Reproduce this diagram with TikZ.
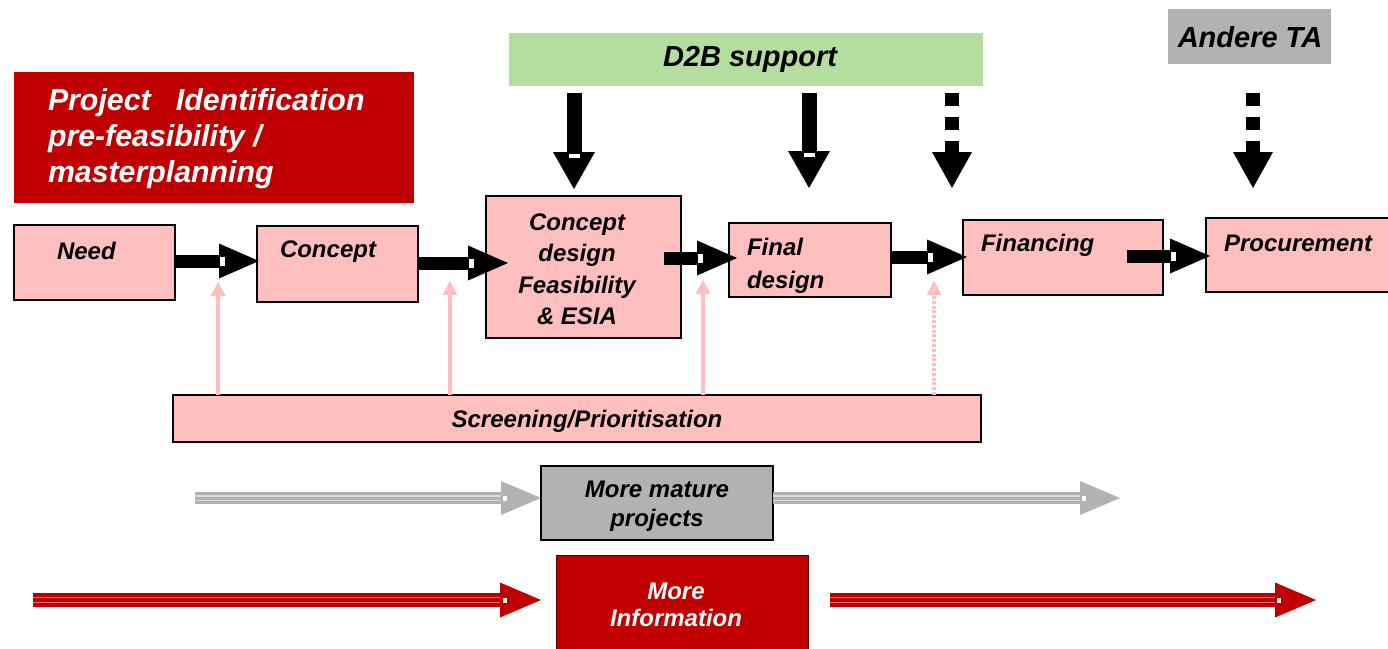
\documentclass[tikz,border=0pt]{standalone}
\usepackage{fontspec}
\setmainfont{Liberation Sans}
\usetikzlibrary{arrows.meta,calc}
\definecolor{pk}{RGB}{255,191,191}
\definecolor{rd}{RGB}{192,0,0}
\definecolor{rdb}{RGB}{90,0,0}
\definecolor{gr}{RGB}{179,222,160}
\definecolor{gy}{RGB}{178,178,178}
\definecolor{gyl}{RGB}{218,218,218}
\definecolor{rdl}{RGB}{232,110,110}
\begin{document}
\begin{tikzpicture}[x=1pt,y=-1pt,
  font=\fontsize{24}{31}\selectfont\bfseries\itshape,
  box/.style={draw=black, line width=1.5pt, fill=pk, inner sep=0pt, outer sep=0pt},
  plain/.style={inner sep=0pt, outer sep=0pt},
  txt/.style={inner sep=0pt, outer sep=0pt},
  big/.style={font=\fontsize{29}{36}\selectfont\bfseries\itshape},
  blk/.style={line width=13pt, -{Triangle[length=40pt,width=35pt,line width=0pt]}},
  blkdn/.style={line width=15pt, -{Triangle[length=37pt,width=42pt,line width=0pt]}},
  blkdash/.style={line width=14pt, dash pattern=on 13pt off 11pt, -{Triangle[length=36pt,width=40pt,line width=0pt]}},
  pkarr/.style={draw=pk, line width=3.5pt, -{Triangle[length=14pt,width=15pt,line width=0pt]}},
  pkdash/.style={pkarr, line width=4.5pt, dash pattern=on 3pt off 1.8pt},
  gyarr/.style={draw=gy, line width=12pt, -{Triangle[length=40pt,width=34pt,line width=0pt]},
    postaction={draw=gyl, -, line width=1.3pt, double=gy, double distance=3pt, shorten >=40pt}},
  rdarr/.style={draw=rd, line width=14pt, -{Triangle[length=41pt,width=35pt,line width=0pt]},
    postaction={draw=rdl, -, line width=1.3pt, double=rd, double distance=3.5pt, shorten >=41pt}},
  whitemark/.style={fill=white}
]
\useasboundingbox (0,0) rectangle (1388,648);

% ---------- boxes ----------
\node[plain, fill=rd, minimum width=400pt, minimum height=131pt] (title) at (214,137.5) {};
\node[plain, fill=gr, minimum width=474pt, minimum height=53pt] (d2b) at (746,59.5) {};
\node[plain, fill=gy, minimum width=163pt, minimum height=55pt] (andere) at (1249.5,36.5) {};
\node[box, minimum width=161pt, minimum height=75pt] (need) at (94.5,262.5) {};
\node[box, minimum width=161pt, minimum height=76pt] (concept) at (337.5,264) {};
\node[box, minimum width=195pt, minimum height=142pt] (cd) at (583.5,267) {};
\node[box, minimum width=162pt, minimum height=74pt] (final) at (810,260) {};
\node[box, minimum width=200pt, minimum height=75pt] (fin) at (1063,257.5) {};
\node[box, minimum width=186pt, minimum height=74pt] (proc) at (1299,255) {};
\node[box, minimum width=808pt, minimum height=47pt] (screen) at (577,418.5) {};
\node[box, fill=gy, line width=1.3pt, minimum width=232pt, minimum height=74pt] (mature) at (657,503) {};
\node[box, fill=rd, draw=rdb, line width=1pt, minimum width=252pt, minimum height=96pt] (info) at (682,603) {};

% ---------- texts ----------
\node[txt, white, anchor=west, align=left, font=\fontsize{30.3}{36}\selectfont\bfseries\itshape] (titleT) at (48,138.5)
  {Project~~~Identification\\pre-feasibility /\\masterplanning};
\node[txt, big] (d2bT) at (750,59) {D2B support};
\node[txt, big] (andereT) at (1250,37) {Andere TA};
\node[txt, anchor=west] (needT) at (57,251) {Need};
\node[txt, anchor=west] (conceptT) at (280,252) {Concept};
\node[txt, align=center, font=\fontsize{24}{31.5}\selectfont\bfseries\itshape] (cdT) at (577,269)
  {Concept\\design\\Feasibility\\\& ESIA};
\node[txt, anchor=west, align=left, font=\fontsize{24}{33}\selectfont\bfseries\itshape] (finalT) at (747,266)
  {Final\\design};
\node[txt, anchor=west] (finT) at (981,245) {Financing};
\node[txt, anchor=west] (procT) at (1224,243) {Procurement};
\node[txt] (screenT) at (587,421) {Screening/Prioritisation};
\node[txt, align=center, font=\fontsize{24}{29}\selectfont\bfseries\itshape] (matureT) at (657,506)
  {More mature\\projects};
\node[txt, white, align=center, font=\fontsize{24}{27}\selectfont\bfseries\itshape] (infoT) at (676,604.5)
  {More\\Information};

% ---------- horizontal block arrows ----------
\coordinate (h1e) at ([xshift=2pt]concept.west |- 0,261);
\draw[blk] (need.east |- h1e) -- (h1e);
\fill[whitemark] ($(h1e)+(-39,-4.5)$) rectangle ($(h1e)+(-34,4.5)$);

\coordinate (h2e) at ([xshift=22pt]cd.west |- 0,263);
\draw[blk] (concept.east |- h2e) -- (h2e);
\fill[whitemark] ($(h2e)+(-39,-4.5)$) rectangle ($(h2e)+(-34,4.5)$);

\coordinate (h3e) at ([xshift=8pt]final.west |- 0,258);
\draw[blk] ([xshift=-17pt]cd.east |- h3e) -- (h3e);
\fill[whitemark] ($(h3e)+(-39,-4.5)$) rectangle ($(h3e)+(-34,4.5)$);

\coordinate (h4e) at ([xshift=4pt]fin.west |- 0,257);
\draw[blk] (final.east |- h4e) -- (h4e);
\fill[whitemark] ($(h4e)+(-39,-4.5)$) rectangle ($(h4e)+(-34,4.5)$);

\coordinate (h5e) at ([xshift=4pt]proc.west |- 0,256);
\draw[blk] ([xshift=-36pt]fin.east |- h5e) -- (h5e);
\fill[whitemark] ($(h5e)+(-39,-4.5)$) rectangle ($(h5e)+(-34,4.5)$);

% ---------- vertical arrows from the top ----------
\coordinate (v1s) at (574,93);  \coordinate (v1e) at (574,189);
\coordinate (v2s) at (809,93);  \coordinate (v2e) at (809,188);
\coordinate (v3s) at (952,93);  \coordinate (v3e) at (952,188);
\coordinate (v4s) at (1253,93); \coordinate (v4e) at (1253,188);
\draw[blkdn] (v1s) -- (v1e);
\fill[whitemark] ($(v1e)+(-5.5,-35)$) rectangle ($(v1e)+(5.5,-31)$);
\draw[blkdn] (v2s) -- (v2e);
\fill[whitemark] ($(v2e)+(-5.5,-35)$) rectangle ($(v2e)+(5.5,-31)$);
\draw[blkdash] (v3s) -- (v3e);
\draw[blkdash] (v4s) -- (v4e);

% ---------- pink arrows from screening ----------
\coordinate (p1) at (218,282);
\coordinate (p2) at (450,281);
\coordinate (p3) at (703,280);
\coordinate (p4) at (934,281);
\draw[pkarr] (screen.north -| p1) -- (p1);
\draw[pkarr] (screen.north -| p2) -- (p2);
\draw[pkarr] (screen.north -| p3) -- (p3);
\draw[pkdash] (screen.north -| p4) -- (p4);

% ---------- gray arrows ----------
\coordinate (g1s) at (195,498);
\coordinate (g2e) at (1120,498);
\draw[gyarr] (g1s) -- (mature.west |- g1s);
\fill[whitemark] (503,495.5) rectangle (507,500.5);
\draw[gyarr] (mature.east |- g2e) -- (g2e);
\fill[whitemark] (1082,495.5) rectangle (1086,500.5);

% ---------- red arrows ----------
\coordinate (r1s) at (33,600);
\coordinate (r1e) at (541,600);
\coordinate (r2s) at ([xshift=22pt]info.east |- 0,600);
\coordinate (r2e) at (1316,600);
\draw[rdarr] (r1s) -- (r1e);
\fill[whitemark] (503,597.5) rectangle (507,602.5);
\draw[rdarr] (r2s) -- (r2e);
\fill[whitemark] (1277,597.5) rectangle (1281,602.5);
\end{tikzpicture}
\end{document}
